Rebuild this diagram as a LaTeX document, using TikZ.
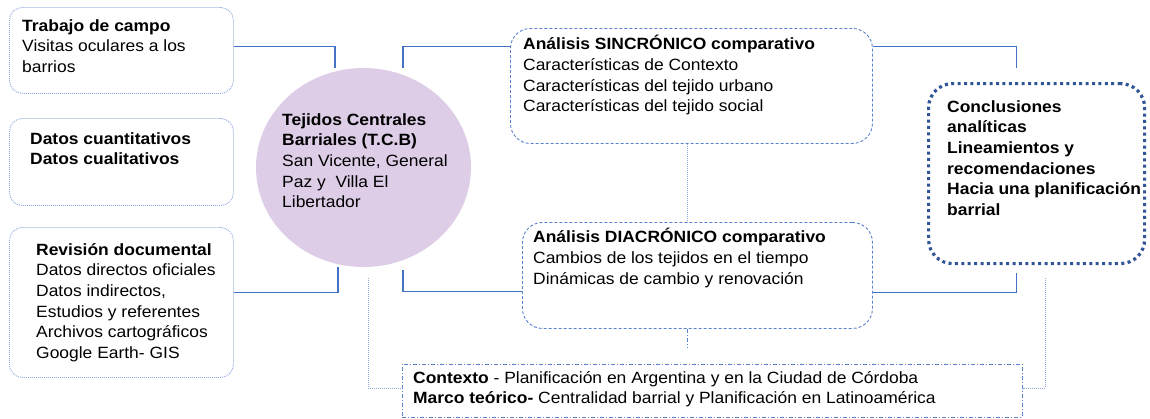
\documentclass[tikz,border=0pt]{standalone}
\usepackage{fontspec}
\setmainfont[FakeStretch=1.07]{Liberation Sans}
\usetikzlibrary{shapes.geometric}

\definecolor{boxblue}{HTML}{8FAADC}
\definecolor{dashblue}{HTML}{5A82CC}
\definecolor{linkblue}{HTML}{4472C4}
\definecolor{darkblue}{HTML}{2F5597}
\definecolor{tcbfill}{HTML}{DDCDE6}

\tikzset{
  srcbox/.style={draw=boxblue, line width=0.9pt, dash pattern=on 1pt off 1pt, rounded corners=13pt, anchor=north west, inner sep=0},
  anabox/.style={draw=dashblue, line width=0.9pt, dash pattern=on 3pt off 2pt, rounded corners=20pt, anchor=north west, inner sep=0},
  txt/.style={anchor=north west, inner sep=0, align=left, font=\fontsize{16.3}{20.7}\selectfont,
    execute at begin node={\rule{0pt}{15pt}}},
  link/.style={draw=linkblue, line width=1.2pt},
  dotlink/.style={draw=boxblue, line width=0.9pt, dash pattern=on 1pt off 1pt}
}

\begin{document}
\begin{tikzpicture}[x=1pt, y=-1pt]
\useasboundingbox (0,0) rectangle (1150,418);

% boxes on the left
\node[srcbox, minimum width=224, minimum height=86] (campo) at (9,7) {};
\node[txt] (campotxt) at (22,19) {\textbf{Trabajo de campo}\\Visitas oculares a los\\barrios};

\node[srcbox, minimum width=224, minimum height=87] (datos) at (9,118) {};
\node[txt] (datostxt) at (30,132) {\textbf{Datos cuantitativos}\\\textbf{Datos cualitativos}};

\node[srcbox, minimum width=224, minimum height=150] (revision) at (9,227) {};
\node[txt] (revisiontxt) at (36,243) {\textbf{Revisión documental}\\Datos directos oficiales\\Datos indirectos,\\Estudios y referentes\\Archivos cartográficos\\Google Earth- GIS};

% center
\node[ellipse, fill=tcbfill, minimum width=215, minimum height=199, inner sep=0] (tcb) at (363.5,167.5) {};
\node[txt] (tcbtxt) at (282,113) {\textbf{Tejidos Centrales}\\\textbf{Barriales (T.C.B)}\\San Vicente, General\\Paz y\ \ Villa El\\Libertador};

% analysis
\node[anabox, minimum width=362, minimum height=115] (sincro) at (510,28) {};
\node[txt] (sincrotxt) at (523,35) {\textbf{Análisis SINCRÓNICO comparativo}\\Características de Contexto\\Características del tejido urbano\\Características del tejido social};

\node[anabox, minimum width=350, minimum height=106] (diacro) at (522,222) {};
\node[txt] (diacrotxt) at (533,228) {\textbf{Análisis DIACRÓNICO comparativo}\\Cambios de los tejidos en el tiempo\\Dinámicas de cambio y renovación};

\node[draw=darkblue, line width=3.2pt, dash pattern=on 3pt off 3.4pt, rounded corners=24pt, anchor=north west, inner sep=0, minimum width=216, minimum height=180] (concl) at (927,82) {};
\node[txt] (concltxt) at (947,100) {\textbf{Conclusiones}\\\textbf{analíticas}\\\textbf{Lineamientos y}\\\textbf{recomendaciones}\\\textbf{Hacia una planificación}\\\textbf{barrial}};

\node[draw=dashblue, line width=0.9pt, dash pattern=on 4pt off 2pt on 1pt off 2pt, anchor=north west, inner sep=0, minimum width=620, minimum height=53] (contexto) at (402,364) {};
\node[txt] (contextotxt) at (413,371) {\textbf{Contexto} - Planificación en Argentina y en la Ciudad de Córdoba\\\textbf{Marco teórico-} Centralidad barrial y Planificación en Latinoamérica};

% connectors
\draw[link] ([yshift=4]campo.east) -| ([xshift=-28.5]tcb.north);
\draw[link] ([yshift=10]revision.east) -| ([xshift=-25.5]tcb.south);
\draw[link] ([xshift=39.5]tcb.north) |- ([yshift=39.5]sincro.west);
\draw[link] ([shift={(39.5,3)}]tcb.south) |- ([yshift=-16]diacro.west);
\draw[link] ([yshift=39.5]sincro.east) -| ([shift={(-20,-14)}]concl.north);
\draw[link] ([yshift=-17]diacro.east) -| ([shift={(-20,8)}]concl.south);

\draw[dotlink] ([shift={(4.5,11)}]tcb.south) |- ([yshift=3]contexto.west);
\draw[dotlink] ([xshift=-4]sincro.south) -- ([xshift=-4]sincro.south |- diacro.north);
\coordinate (ctxstub) at ([xshift=-4]sincro.south |- 0,347);
\draw[draw=dashblue, line width=0.9pt, dash pattern=on 4pt off 2pt on 1pt off 2pt] ([xshift=-4]sincro.south |- diacro.south) -- (ctxstub);
\draw[dotlink] ([shift={(9,13)}]concl.south) |- ([yshift=3]contexto.east);
\end{tikzpicture}
\end{document}
